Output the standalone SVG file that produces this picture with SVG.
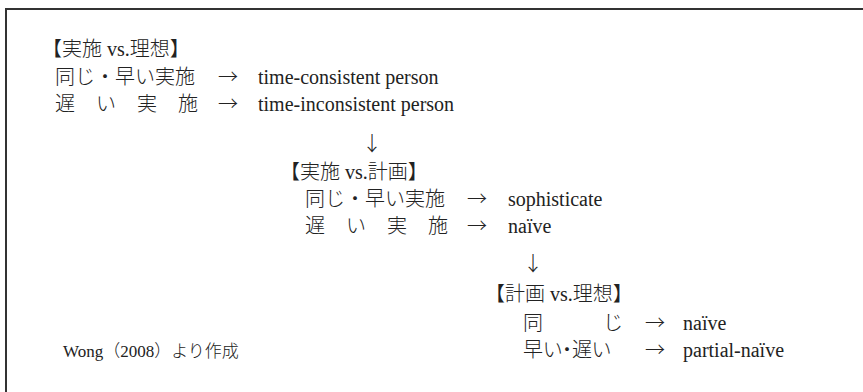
<svg xmlns="http://www.w3.org/2000/svg" width="863" height="392" viewBox="0 0 863 392">
<style>
  .t { font-family: "Liberation Serif", "Noto Sans CJK JP", serif; font-size: 20px; font-weight: 300; fill: #222; }
  .j { font-family: "Noto Sans CJK JP", sans-serif; font-size: 20px; font-weight: 300; fill: #222; }
  .a { font-family: "Noto Sans CJK JP", sans-serif; font-size: 20px; font-weight: 300; fill: #222; text-anchor: middle; }
  .palt { font-feature-settings: "palt"; }
  .note { font-family: "Liberation Serif", "Noto Sans CJK JP", serif; font-size: 17px; font-weight: 300; fill: #222; }
</style>
<rect x="0" y="0" width="863" height="392" fill="#fff"/>
<rect x="6" y="9" width="880" height="400" fill="none" stroke="#333" stroke-width="2"/>

<g id="block-jisshi-riso">
  <text class="t" x="42" y="56">【実施 vs.理想】</text>
  <text class="j" x="55" y="84">同じ・早い実施</text>
  <text class="a" x="228" y="84">→</text>
  <text class="t" x="258" y="84">time-consistent person</text>
  <text class="j" x="55 96 137 178" y="111">遅い実施</text>
  <text class="a" x="228" y="111">→</text>
  <text class="t" x="258" y="111">time-inconsistent person</text>
</g>

<g id="block-jisshi-keikaku">
  <text class="t" x="280" y="179">【実施 vs.計画】</text>
  <text class="j" x="305" y="206">同じ・早い実施</text>
  <text class="a" x="477" y="206">→</text>
  <text class="t" x="508" y="206">sophisticate</text>
  <text class="j" x="305 346 387 428" y="233">遅い実施</text>
  <text class="a" x="477" y="233">→</text>
  <text class="t" x="508" y="233">naïve</text>
</g>

<g id="block-keikaku-riso">
  <text class="t" x="485" y="301">【計画 vs.理想】</text>
  <text class="j" x="523 603" y="330">同じ</text>
  <text class="a" x="655" y="330">→</text>
  <text class="t" x="683" y="330">naïve</text>
  <text class="j palt" x="523" y="357">早い・遅い</text>
  <text class="a" x="655" y="357">→</text>
  <text class="t" x="683" y="357">partial-naïve</text>
</g>

<g id="source-note">
  <text class="note" x="63" y="357">Wong（2008）より作成</text>
</g>

<g id="connectors">
  <text class="a" x="372" y="151">↓</text>
  <text class="a" x="533" y="271">↓</text>
</g>
</svg>
